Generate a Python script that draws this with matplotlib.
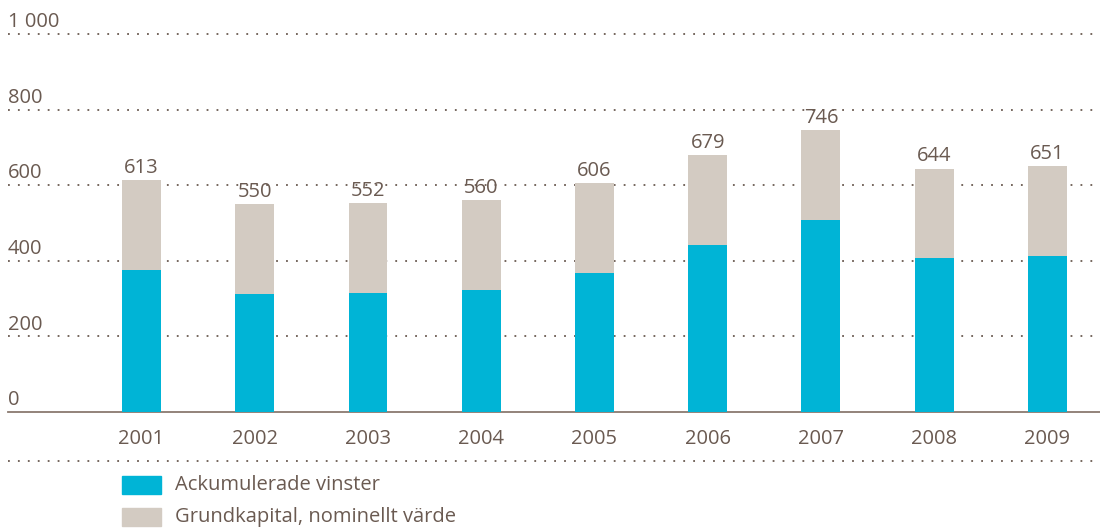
import matplotlib.pyplot as plt
from matplotlib.lines import Line2D
from matplotlib.patches import Rectangle

plt.rcParams['font.family'] = ['Open Sans', 'DejaVu Sans']

# Data
years = ['2001', '2002', '2003', '2004', '2005', '2006', '2007', '2008', '2009']
totals = [613, 550, 552, 560, 606, 679, 746, 644, 651]
vinster = [376, 313, 315, 323, 368, 442, 509, 408, 413]
grundkapital = [t - v for t, v in zip(totals, vinster)]
yticks = [0, 200, 400, 600, 800, 1000]
ytick_labels = ['0', '200', '400', '600', '800', '1 000']

blue = '#00b4d6'
grey = '#d3cbc2'
textc = '#6a5a51'
fs = 14.5

W, H = 1100, 528
fig = plt.figure(figsize=(W / 100, H / 100), dpi=100)
ax = fig.add_axes([8 / W, 1 - 412 / H, (1100 - 8) / W, (412 - 20) / H])

x = list(range(len(years)))
ax.bar(x, vinster, width=0.344, color=blue, zorder=3)
ax.bar(x, grundkapital, bottom=vinster, width=0.344, color=grey, zorder=3)

for i, t in enumerate(totals):
    ax.text(i, t + 6, str(t), ha='center', va='bottom', fontsize=fs, color=textc)

ax.set_xlim(-1.179, 8.464)
ax.set_ylim(0, 1037)

# dotted grid + labels above the lines
for yv, lab in zip(yticks, ytick_labels):
    if yv > 0:
        ax.axhline(yv, color=textc, linestyle=(0, (1, 4.5)), linewidth=1.3, zorder=1)
    ax.text(-1.179, yv + 5, lab, ha='left', va='bottom', fontsize=fs, color=textc)

for s in ['top', 'right', 'left']:
    ax.spines[s].set_visible(False)
ax.spines['bottom'].set_color('#8a7a70')
ax.spines['bottom'].set_linewidth(1.3)
ax.set_yticks([])
ax.set_xticks(x)
ax.set_xticklabels(years, fontsize=fs, color=textc)
ax.tick_params(axis='x', length=0, pad=12)

# dotted line below the year labels
fig.add_artist(Line2D([8 / W, 1], [1 - 461 / H, 1 - 461 / H], color=textc,
                      linestyle=(0, (1, 4.5)), linewidth=1.3))

# legend
for yy, col, lab in [(476, blue, 'Ackumulerade vinster'), (508, grey, 'Grundkapital, nominellt värde')]:
    fig.add_artist(Rectangle((122 / W, 1 - (yy + 18) / H), 39 / W, 18 / H,
                             color=col, transform=fig.transFigure))
    fig.text(175 / W, 1 - (yy + 9) / H, lab, ha='left', va='center', fontsize=fs, color=textc)

fig.savefig('out.png', dpi=100)
